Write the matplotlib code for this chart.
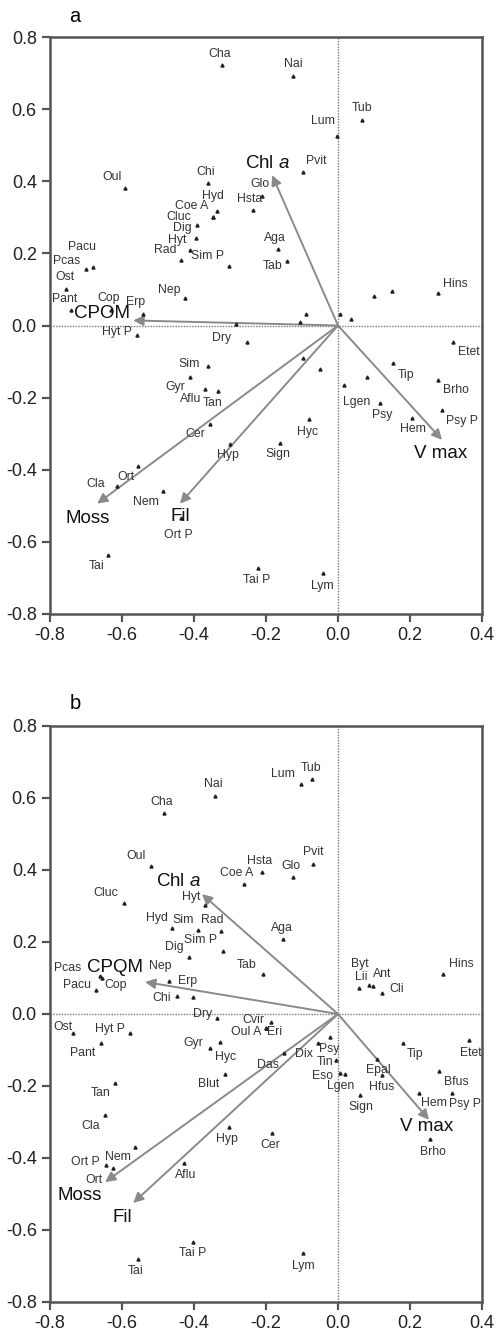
import matplotlib
matplotlib.use("Agg")
import matplotlib.pyplot as plt

plt.rcParams['font.family'] = ['Liberation Sans', 'DejaVu Sans']
plt.rcParams['axes.unicode_minus'] = False
plt.rcParams['mathtext.fontset'] = 'custom'
plt.rcParams['mathtext.rm'] = 'Liberation Sans'
plt.rcParams['mathtext.it'] = 'Liberation Sans:italic'

# ---- panel a: species scores ----
species_a = ["Cha", "Nai", "Tub", "Lum", "Oul", "Chi", "Pvit", "Hyd", "Coe A", "Cluc",
             "Dig", "Hyt", "Rad", "Sim P", "Hsta", "Glo", "Aga", "Tab", "Hins", "Pacu",
             "Pcas", "Ost", "Pant", "Cop", "Erp", "Nep", "Hyt P", "Dry", "Sim", "Gyr",
             "Aflu", "Tan", "Cer", "Hyp", "Sign", "Hyc", "Etet", "Tip", "Brho", "Lgen",
             "Psy", "Hem", "Psy P", "Ort", "Cla", "Nem", "Ort P", "Tai", "Tai P", "Lym"]
x_a = [-0.322, -0.125, 0.067, -0.003, -0.592, -0.361, -0.097, -0.336, -0.347, -0.347,
       -0.392, -0.394, -0.436, -0.303, -0.236, -0.211, -0.167, -0.142, 0.278, -0.681,
       -0.700, -0.756, -0.742, -0.631, -0.542, -0.425, -0.558, -0.253, -0.361, -0.411,
       -0.369, -0.333, -0.356, -0.300, -0.161, -0.081, 0.319, 0.153, 0.278, 0.017,
       0.117, 0.206, 0.289, -0.556, -0.614, -0.486, -0.436, -0.639, -0.222, -0.042]
y_a = [0.722, 0.692, 0.569, 0.525, 0.381, 0.394, 0.425, 0.317, 0.300, 0.300,
       0.278, 0.242, 0.181, 0.164, 0.319, 0.358, 0.211, 0.178, 0.089, 0.161,
       0.158, 0.100, 0.044, 0.044, 0.031, 0.075, -0.025, -0.047, -0.111, -0.144,
       -0.175, -0.181, -0.272, -0.328, -0.325, -0.258, -0.047, -0.103, -0.150, -0.164,
       -0.214, -0.256, -0.233, -0.389, -0.444, -0.458, -0.533, -0.636, -0.672, -0.686]
# unlabelled species in panel a
extra_x_a = [-0.411, 0.100, 0.150, -0.089, -0.106, 0.006, 0.036, -0.283, -0.097, -0.050, 0.081]
extra_y_a = [0.208, 0.083, 0.097, 0.031, 0.011, 0.031, 0.017, 0.003, -0.089, -0.122, -0.144]

# ---- panel a: environmental variables ----
env_a = ["CPOM", "Chl $\\mathit{a}$", "Moss", "Fil", "V max"]
env_x_a = [-0.569, -0.183, -0.669, -0.439, 0.289]
env_y_a = [0.014, 0.417, -0.494, -0.494, -0.317]

# ---- panel b: species scores ----
species_b = ["Nai", "Cha", "Lum", "Tub", "Oul", "Pvit", "Glo", "Hsta", "Coe A", "Cluc",
             "Hyt", "Hyd", "Sim", "Rad", "Sim P", "Dig", "Aga", "Tab", "Nep", "Erp",
             "Chi", "Pcas", "Pacu", "Cop", "Byt", "Lii", "Ant", "Cli", "Hins", "Ost",
             "Hyt P", "Pant", "Dry", "Gyr", "Hyc", "Blut", "Cvir", "Oul A", "Eri", "Das",
             "Dix", "Psy", "Tin", "Eso", "Lgen", "Sign", "Epal", "Hfus", "Tip", "Etet",
             "Bfus", "Hem", "Psy P", "Brho", "Cer", "Hyp", "Aflu", "Tan", "Cla", "Ort P",
             "Ort", "Nem", "Tai P", "Tai", "Lym"]
x_b = [-0.342, -0.483, -0.103, -0.072, -0.519, -0.069, -0.125, -0.211, -0.261, -0.594,
       -0.369, -0.461, -0.389, -0.325, -0.319, -0.414, -0.153, -0.208, -0.469, -0.403,
       -0.447, -0.661, -0.672, -0.656, 0.058, 0.086, 0.097, 0.122, 0.292, -0.736,
       -0.578, -0.658, -0.336, -0.356, -0.328, -0.314, -0.186, -0.200, -0.200, -0.150,
       -0.056, -0.022, -0.006, 0.006, 0.019, 0.061, 0.108, 0.122, 0.181, 0.364,
       0.281, 0.225, 0.317, 0.256, -0.183, -0.303, -0.428, -0.619, -0.647, -0.644,
       -0.625, -0.564, -0.403, -0.556, -0.097]
y_b = [0.606, 0.558, 0.639, 0.653, 0.411, 0.417, 0.381, 0.394, 0.361, 0.308,
       0.303, 0.239, 0.233, 0.231, 0.175, 0.158, 0.208, 0.111, 0.092, 0.047,
       0.050, 0.106, 0.067, 0.100, 0.072, 0.081, 0.078, 0.058, 0.111, -0.053,
       -0.053, -0.081, -0.011, -0.094, -0.078, -0.167, -0.022, -0.039, -0.039, -0.108,
       -0.081, -0.064, -0.128, -0.164, -0.167, -0.225, -0.125, -0.169, -0.081, -0.072,
       -0.158, -0.219, -0.219, -0.347, -0.331, -0.314, -0.414, -0.192, -0.281, -0.419,
       -0.428, -0.369, -0.633, -0.681, -0.664]

env_b = ["CPQM", "Chl $\\mathit{a}$", "Moss", "Fil", "V max"]
env_x_b = [-0.536, -0.378, -0.647, -0.569, 0.253]
env_y_b = [0.089, 0.333, -0.467, -0.525, -0.294]

# label offsets (pixels) relative to marker / arrow tip
lab_off_a = [(-2, 11), (0, 12), (0, 12), (-14, 15), (-13, 11), (-2, 11), (13, 11), (-4, 15), (-21, 11), (-34, 0),
             (-15, -3), (-19, -2), (-16, 10), (-21, 10), (-3, 11), (-2, 12), (-3, 11), (-14, -5), (17, 9), (-11, 20),
             (-19, 8), (-1, 12), (-6, 11), (-2, 12), (-7, 12), (-16, 8), (-20, 3), (-25, 4), (-19, 2), (-15, -10),
             (-15, -10), (-5, -12), (-15, -10), (-2, -11), (-2, -11), (-1, -13), (16, -10), (13, -12), (18, -10), (13, -17),
             (2, -12), (1, -11), (20, -11), (-12, -11), (-21, 2), (-17, -11), (-3, -17), (-11, -11), (-1, -12), (-1, -13)]
env_off_a = [(-31, 7), (-5, 12), (-9, -15), (0, -13), (-1, -14)]

lab_off_b = [(-2, 12), (-2, 11), (-18, 10), (-1, 11), (-15, 10), (0, 12), (-2, 11), (-2, 11), (-7, 11), (-18, 10),
             (-14, 8), (-15, 10), (-15, 10), (-9, 11), (-23, 11), (-15, 10), (-1, 11), (-16, 9), (-9, 15), (-5, 16),
             (-15, -2), (-32, 8), (-19, 5), (14, -7), (1, 24), (-8, 8), (9, 12), (15, 4), (18, 10), (-10, 6),
             (-20, 4), (-18, -10), (-14, 4), (-17, 5), (6, -15), (-16, -10), (-18, 2), (-20, -4), (9, -4), (-16, -12),
             (-14, -11), (-1, -12), (-11, -2), (-18, -3), (-4, -12), (1, -12), (1, -11), (0, -12), (12, -11), (2, -13),
             (17, -11), (15, -10), (13, -11), (3, -13), (-2, -12), (-2, -12), (2, -12), (-15, -10), (-14, -11), (-21, 3),
             (-19, -12), (-17, -10), (0, -11), (-2, -12), (0, -13)]
env_off_b = [(-30, 14), (-23, 13), (-25, -13), (-11, -14), (-2, -7)]

W, H = 497, 1335
fig = plt.figure(figsize=(W / 100, H / 100), dpi=100)


def draw_panel(ax, names, xs, ys, offs, ex, ey, env, envx, envy, envoff):
    ax.set_xlim(-0.8, 0.4)
    ax.set_ylim(-0.8, 0.8)
    ax.axhline(0, color='#777777', lw=1.0, ls=(0, (1, 1)), zorder=1)
    ax.axvline(0, color='#777777', lw=1.0, ls=(0, (1, 1)), zorder=1)
    for ex_, ey_, name, (dx, dy) in zip(envx, envy, env, envoff):
        ax.annotate('', xy=(ex_, ey_), xytext=(0, 0),
                    arrowprops=dict(arrowstyle='-|>', color='#8a8a8a', lw=1.4,
                                    mutation_scale=15, shrinkA=0, shrinkB=0), zorder=2)
        ax.annotate(name, xy=(ex_, ey_), xytext=(dx, dy), textcoords='offset pixels',
                    ha='center', va='center', fontsize=13.5, color='#111111', zorder=4)
    ax.plot(xs, ys, ls='none', marker='^', ms=2.2, color='#222222', zorder=3)
    ax.plot(ex, ey, ls='none', marker='^', ms=2.2, color='#222222', zorder=3)
    for x, y, name, (dx, dy) in zip(xs, ys, names, offs):
        ax.annotate(name, xy=(x, y), xytext=(dx, dy), textcoords='offset pixels',
                    ha='center', va='center', fontsize=8.8, color='#333333', zorder=4)
    ax.set_xticks([-0.8, -0.6, -0.4, -0.2, 0.0, 0.2, 0.4])
    ax.set_yticks([-0.8, -0.6, -0.4, -0.2, 0.0, 0.2, 0.4, 0.6, 0.8])
    ax.xaxis.set_major_formatter(plt.FormatStrFormatter('%.1f'))
    ax.yaxis.set_major_formatter(plt.FormatStrFormatter('%.1f'))
    ax.tick_params(direction='out', length=6, width=1.6, color='#555555',
                   labelsize=13, labelcolor='#222222', top=False, right=False)
    for s in ax.spines.values():
        s.set_color('#555555')
        s.set_linewidth(1.8)


ax_a = fig.add_axes([50 / W, 1 - 614 / H, 432 / W, 577 / H])
draw_panel(ax_a, species_a, x_a, y_a, lab_off_a, extra_x_a, extra_y_a,
           env_a, env_x_a, env_y_a, env_off_a)
ax_b = fig.add_axes([50 / W, 1 - 1302 / H, 432 / W, 576 / H])
draw_panel(ax_b, species_b, x_b, y_b, lab_off_b, [], [],
           env_b, env_x_b, env_y_b, env_off_b)

fig.text(75 / W, 1 - 17 / H, 'a', fontsize=14.5, ha='center', va='center')
fig.text(75 / W, 1 - 703 / H, 'b', fontsize=14.5, ha='center', va='center')

fig.savefig('out.png', dpi=100)
